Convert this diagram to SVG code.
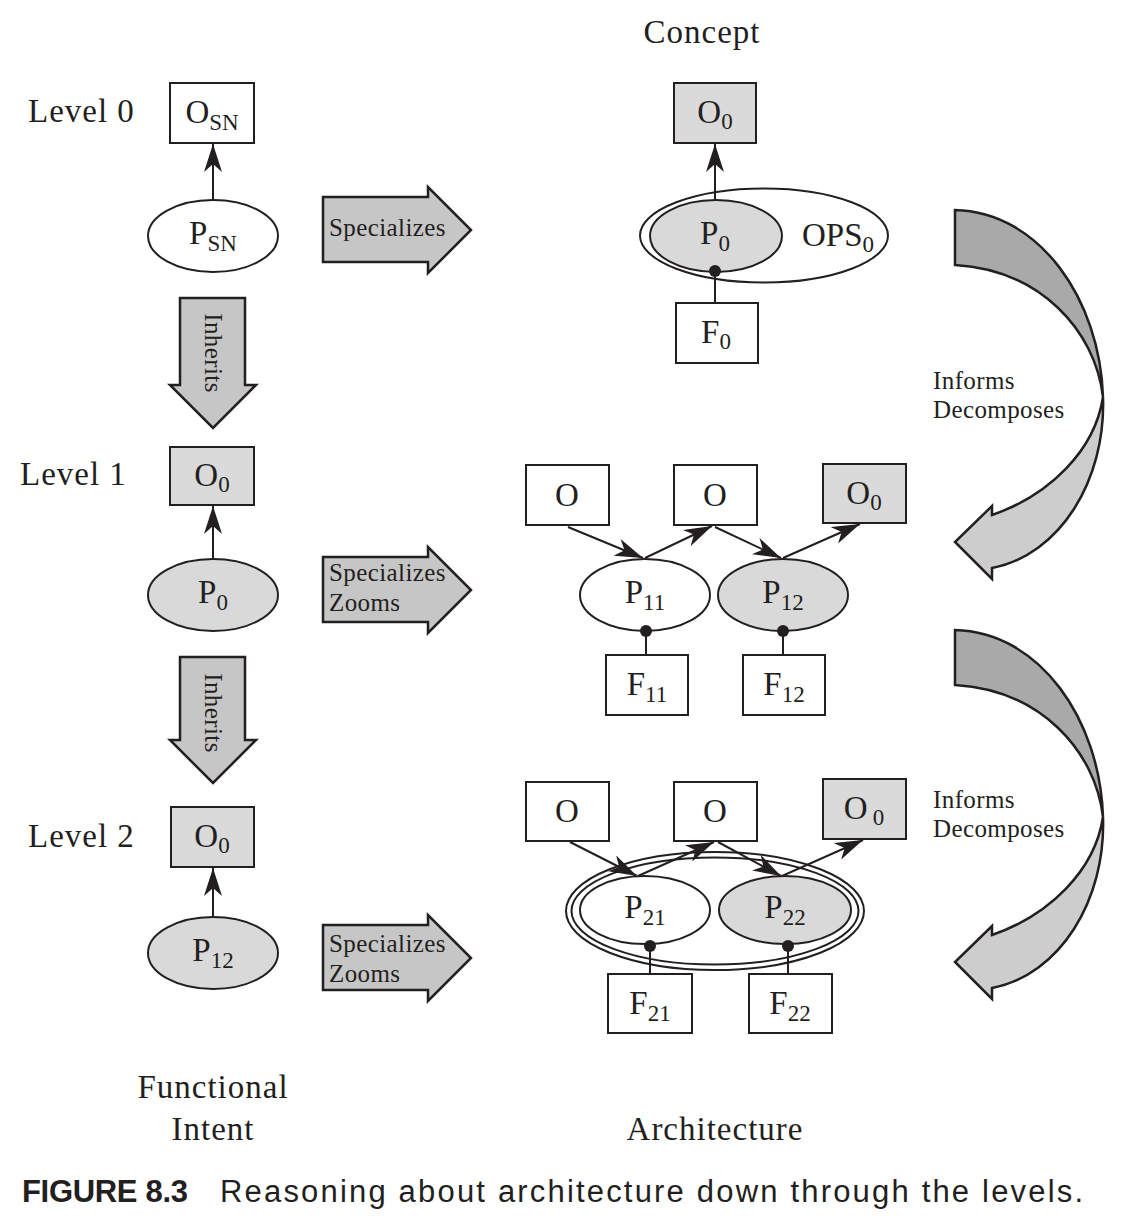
<svg xmlns="http://www.w3.org/2000/svg" width="1123" height="1230" viewBox="0 0 1123 1230">
<style>
.box{fill:#fff;stroke:#231f20;stroke-width:2}
.gbox{fill:#dadada;stroke:#231f20;stroke-width:2}
.ell{fill:#fff;stroke:#231f20;stroke-width:2}
.gell{fill:#d9d9d9;stroke:#231f20;stroke-width:2}
.big{fill:#c6c6c6;stroke:#231f20;stroke-width:2.5;stroke-linejoin:miter}
.dark{fill:#a9a9a9;stroke:#231f20;stroke-width:2.5}
.light{fill:#cdcdcd;stroke:#231f20;stroke-width:2.5}
.lbl{font-family:"Liberation Serif",serif;font-size:33px;fill:#231f20;letter-spacing:1px}
.nd{font-family:"Liberation Serif",serif;font-size:33px;fill:#231f20;text-anchor:middle}
.sub{font-size:23px}
.sm{font-family:"Liberation Serif",serif;font-size:25px;fill:#231f20;letter-spacing:0.4px}
.con{fill:none;stroke:#231f20;stroke-width:2}
.dot{fill:#231f20}
.cap{font-family:"Liberation Sans",Arial,sans-serif;font-size:31px;fill:#231f20}
</style>
<defs>
<marker id="ah" viewBox="0 0 28 18" refX="28" refY="9" markerWidth="28" markerHeight="18" markerUnits="userSpaceOnUse" orient="auto">
<path d="M0,0 L28,9 L0,18 L8,9 Z" fill="#231f20"/>
</marker>
</defs>

<text class="lbl" x="702" y="43" text-anchor="middle">Concept</text>
<text class="lbl" x="28" y="122">Level 0</text>
<text class="lbl" x="20" y="485">Level 1</text>
<text class="lbl" x="28" y="847">Level 2</text>
<text class="lbl" x="213" y="1098" text-anchor="middle">Functional</text>
<text class="lbl" x="213" y="1140" text-anchor="middle">Intent</text>
<text class="lbl" x="715" y="1140" text-anchor="middle">Architecture</text>

<g id="inherits1">
<polygon class="big" points="180,298 245,298 245,385 256,385 213,428 170,385 180,385"/>
<text class="sm" font-size="26" text-anchor="middle" transform="translate(205,353) rotate(90)">Inherits</text>
</g>
<g id="inherits2">
<polygon class="big" points="180,657 245,657 245,740 256,740 213,783 170,740 180,740"/>
<text class="sm" font-size="26" text-anchor="middle" transform="translate(205,713) rotate(90)">Inherits</text>
</g>

<g id="spec0">
<polygon class="big" points="323,197 428,197 428,187 471,230 428,273 428,262 323,262"/>
<text class="sm" x="329" y="236">Specializes</text>
</g>
<g id="spec1">
<polygon class="big" points="323,557 428,557 428,547 471,590 428,633 428,622 323,622"/>
<text class="sm" x="329" y="581">Specializes</text>
<text class="sm" x="329" y="611">Zooms</text>
</g>
<g id="spec2">
<polygon class="big" points="323,925 428,925 428,915 471,958 428,1001 428,990 323,990"/>
<text class="sm" x="329" y="952">Specializes</text>
<text class="sm" x="329" y="982">Zooms</text>
</g>

<g id="informs1">
<path class="dark" d="M955,210 C1040,212 1100,300 1103,397 C1095,330 1040,270 955,265 Z"/>
<path class="light" d="M1103,397 C1106,480 1060,555 992,568 L992,579 L955,542 L992,506 L992,515 C1050,495 1095,450 1103,397 Z"/>
<text class="sm" x="933" y="389">Informs</text>
<text class="sm" x="933" y="418">Decomposes</text>
</g>
<g id="informs2">
<path class="dark" d="M955,630 C1040,632 1100,720 1103,817 C1095,750 1040,690 955,685 Z"/>
<path class="light" d="M1103,817 C1106,900 1060,975 992,988 L992,999 L955,962 L992,926 L992,935 C1050,915 1095,870 1103,817 Z"/>
<text class="sm" x="933" y="808">Informs</text>
<text class="sm" x="933" y="837">Decomposes</text>
</g>

<!-- left column nodes -->
<g id="OSN"><rect class="box" x="170" y="83" width="84" height="60"/><text class="nd" x="212" y="123">O<tspan class="sub" dy="7">SN</tspan></text></g>
<g id="PSN"><ellipse class="ell" cx="213" cy="236" rx="65" ry="36"/><text class="nd" x="213" y="244">P<tspan class="sub" dy="7">SN</tspan></text></g>
<g id="O0L1"><rect class="gbox" x="170" y="447" width="84" height="58"/><text class="nd" x="212" y="486">O<tspan class="sub" dy="6">0</tspan></text></g>
<g id="P0L1"><ellipse class="gell" cx="213" cy="595" rx="65" ry="36"/><text class="nd" x="213" y="603">P<tspan class="sub" dy="7">0</tspan></text></g>
<g id="O0L2"><rect class="gbox" x="171" y="807" width="83" height="60"/><text class="nd" x="212" y="847">O<tspan class="sub" dy="6">0</tspan></text></g>
<g id="P12L"><ellipse class="gell" cx="213" cy="953" rx="65" ry="36"/><text class="nd" x="213" y="961">P<tspan class="sub" dy="7">12</tspan></text></g>

<!-- concept -->
<g id="O0c"><rect class="gbox" x="674" y="83" width="82" height="60"/><text class="nd" x="715" y="123">O<tspan class="sub" dy="6">0</tspan></text></g>
<g id="OPS0"><ellipse class="ell" cx="764" cy="235.5" rx="124" ry="47"/><text class="nd" x="838" y="246">OPS<tspan class="sub" dy="6">0</tspan></text></g>
<g id="P0c"><ellipse class="gell" cx="716" cy="236" rx="66" ry="36"/><text class="nd" x="715" y="244">P<tspan class="sub" dy="7">0</tspan></text></g>
<g id="F0"><rect class="box" x="676" y="303" width="82" height="60"/><text class="nd" x="716" y="343">F<tspan class="sub" dy="6">0</tspan></text></g>

<!-- level 1 architecture -->
<g id="O1a"><rect class="box" x="526" y="465" width="83" height="60"/><text class="nd" x="567" y="506">O</text></g>
<g id="O1b"><rect class="box" x="674" y="465" width="83" height="60"/><text class="nd" x="715" y="506">O</text></g>
<g id="O1c"><rect class="gbox" x="823" y="464" width="83" height="59"/><text class="nd" x="864" y="504">O<tspan class="sub" dy="6">0</tspan></text></g>
<g id="P11"><ellipse class="ell" cx="645" cy="595" rx="65" ry="36"/><text class="nd" x="645" y="603">P<tspan class="sub" dy="7">11</tspan></text></g>
<g id="P12"><ellipse class="gell" cx="783" cy="595" rx="65" ry="36"/><text class="nd" x="783" y="603">P<tspan class="sub" dy="7">12</tspan></text></g>
<g id="F11"><rect class="box" x="606" y="655" width="82" height="60"/><text class="nd" x="647" y="695">F<tspan class="sub" dy="7">11</tspan></text></g>
<g id="F12"><rect class="box" x="743" y="655" width="82" height="60"/><text class="nd" x="784" y="695">F<tspan class="sub" dy="7">12</tspan></text></g>

<!-- level 2 architecture -->
<g id="O2a"><rect class="box" x="526" y="782" width="83" height="59"/><text class="nd" x="567" y="822">O</text></g>
<g id="O2b"><rect class="box" x="674" y="782" width="83" height="59"/><text class="nd" x="715" y="822">O</text></g>
<g id="O2c"><rect class="gbox" x="823" y="779" width="83" height="60"/><text class="nd" x="864" y="819">O<tspan class="sub" dx="5" dy="6">0</tspan></text></g>
<g id="OPS2"><ellipse class="ell" cx="715" cy="911" rx="149" ry="59"/><ellipse class="ell" cx="715" cy="911" rx="143.5" ry="53.5"/></g>
<g id="P21"><ellipse class="ell" cx="645" cy="910" rx="65" ry="34"/><text class="nd" x="645" y="918">P<tspan class="sub" dy="7">21</tspan></text></g>
<g id="P22"><ellipse class="gell" cx="785" cy="910" rx="66" ry="34"/><text class="nd" x="785" y="918">P<tspan class="sub" dy="7">22</tspan></text></g>
<g id="F21"><rect class="box" x="608" y="974" width="84" height="59"/><text class="nd" x="650" y="1014">F<tspan class="sub" dy="7">21</tspan></text></g>
<g id="F22"><rect class="box" x="749" y="974" width="83" height="59"/><text class="nd" x="790" y="1014">F<tspan class="sub" dy="7">22</tspan></text></g>

<g id="connectors">
<line class="con" x1="213" y1="200" x2="213" y2="144" marker-end="url(#ah)"/>
<line class="con" x1="213" y1="559" x2="213" y2="506" marker-end="url(#ah)"/>
<line class="con" x1="213" y1="917" x2="213" y2="868" marker-end="url(#ah)"/>
<line class="con" x1="715" y1="200" x2="715" y2="144" marker-end="url(#ah)"/>
<line class="con" x1="715" y1="271" x2="715" y2="303"/>
<circle class="dot" cx="715" cy="271" r="6"/>

<line class="con" x1="568" y1="527" x2="643" y2="558" marker-end="url(#ah)"/>
<line class="con" x1="645" y1="558" x2="712" y2="526" marker-end="url(#ah)"/>
<line class="con" x1="715" y1="527" x2="781" y2="558" marker-end="url(#ah)"/>
<line class="con" x1="783" y1="558" x2="860" y2="524" marker-end="url(#ah)"/>
<line class="con" x1="646" y1="631" x2="646" y2="655"/>
<circle class="dot" cx="646" cy="631" r="6"/>
<line class="con" x1="783" y1="631" x2="783" y2="655"/>
<circle class="dot" cx="783" cy="631" r="6"/>

<line class="con" x1="570" y1="842" x2="637" y2="876" marker-end="url(#ah)"/>
<line class="con" x1="638" y1="876" x2="714" y2="842" marker-end="url(#ah)"/>
<line class="con" x1="718" y1="842" x2="781" y2="876" marker-end="url(#ah)"/>
<line class="con" x1="782" y1="876" x2="863" y2="840" marker-end="url(#ah)"/>
<line class="con" x1="650" y1="946" x2="650" y2="974"/>
<circle class="dot" cx="650" cy="946" r="6"/>
<line class="con" x1="788" y1="946" x2="788" y2="974"/>
<circle class="dot" cx="788" cy="946" r="6"/>
</g>

<text class="cap" x="22" y="1202" font-weight="bold" textLength="166">FIGURE 8.3</text>
<text class="cap" x="220" y="1202" textLength="863">Reasoning about architecture down through the levels.</text>
</svg>
